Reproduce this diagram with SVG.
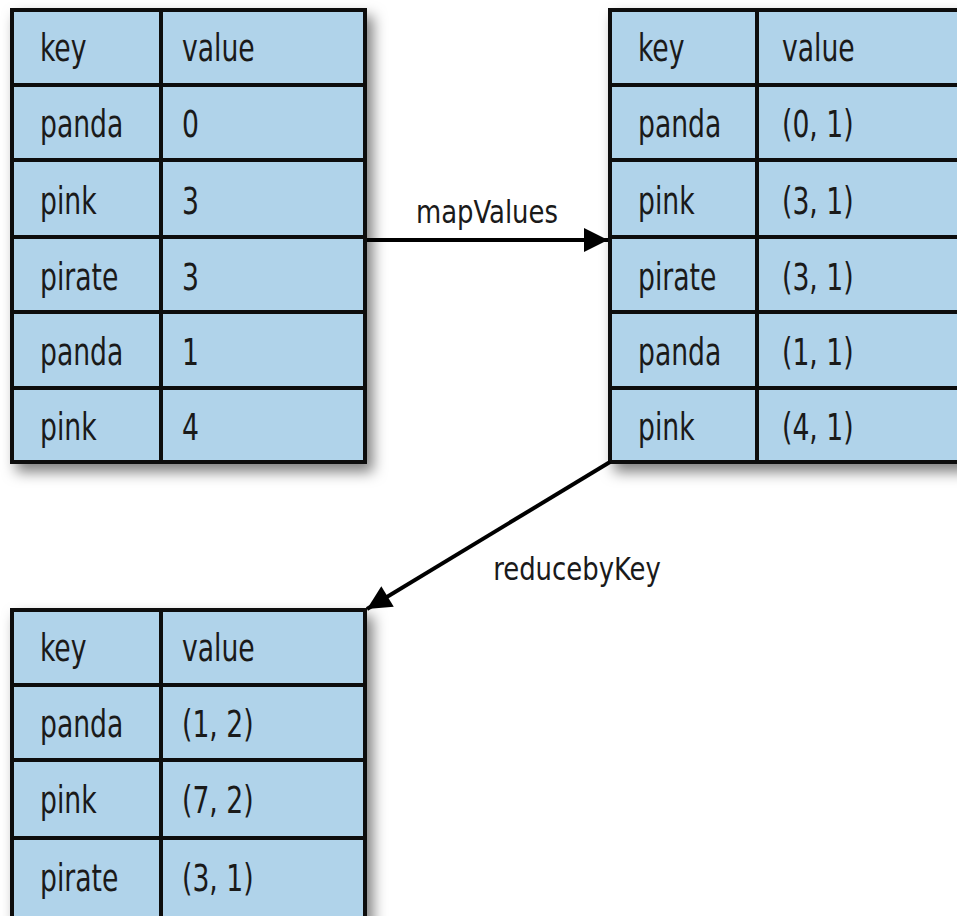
<svg xmlns="http://www.w3.org/2000/svg" width="957" height="916" viewBox="0 0 957 916">
<defs>
<style>
.cell{fill:#b0d3ea;stroke:#111;stroke-width:4}
.t{font-family:"DejaVu Sans Condensed","Liberation Sans",sans-serif;font-stretch:condensed;font-size:37px;fill:#1a1a1a;transform-box:fill-box;transform-origin:0 0;transform:scaleX(0.8)}
.lbl{font-family:"DejaVu Sans Condensed","Liberation Sans",sans-serif;font-stretch:condensed;font-size:32px;fill:#1a1a1a;transform-box:fill-box;transform-origin:50% 50%;transform:scaleX(0.9)}
.conn{stroke:#000;stroke-width:4;fill:none}
</style>
<filter id="sh" x="-10%" y="-10%" width="130%" height="130%">
<feDropShadow dx="6" dy="8" stdDeviation="7" flood-color="#000" flood-opacity="0.5"/>
</filter>
<marker id="ah" viewBox="0 0 10 10" refX="10" refY="5" markerWidth="7" markerHeight="6" markerUnits="strokeWidth" orient="auto">
<path d="M0,0 L10,5 L0,10 Z" fill="#000"/>
</marker>
</defs>
<rect width="957" height="916" fill="#fff"/>
<g id="table1" filter="url(#sh)">
<rect class="cell" x="12" y="10" width="353" height="452"/>
<line class="cell" x1="12" y1="85" x2="365" y2="85"/>
<line class="cell" x1="12" y1="160" x2="365" y2="160"/>
<line class="cell" x1="12" y1="237" x2="365" y2="237"/>
<line class="cell" x1="12" y1="312" x2="365" y2="312"/>
<line class="cell" x1="12" y1="388" x2="365" y2="388"/>
<line class="cell" x1="161" y1="10" x2="161" y2="462"/>
</g>
<g id="table1-text">
<text class="t" x="40" y="61">key</text><text class="t" x="182" y="61">value</text>
<text class="t" x="40" y="137">panda</text><text class="t" x="182" y="137">0</text>
<text class="t" x="40" y="214">pink</text><text class="t" x="182" y="214">3</text>
<text class="t" x="40" y="290">pirate</text><text class="t" x="182" y="290">3</text>
<text class="t" x="40" y="365">panda</text><text class="t" x="182" y="365">1</text>
<text class="t" x="40" y="440">pink</text><text class="t" x="182" y="440">4</text>
</g>
<g id="table2" filter="url(#sh)">
<rect class="cell" x="610" y="10" width="353" height="452"/>
<line class="cell" x1="610" y1="85" x2="963" y2="85"/>
<line class="cell" x1="610" y1="160" x2="963" y2="160"/>
<line class="cell" x1="610" y1="237" x2="963" y2="237"/>
<line class="cell" x1="610" y1="312" x2="963" y2="312"/>
<line class="cell" x1="610" y1="388" x2="963" y2="388"/>
<line class="cell" x1="757" y1="10" x2="757" y2="462"/>
</g>
<g id="table2-text">
<text class="t" x="638" y="61">key</text><text class="t" x="782" y="61">value</text>
<text class="t" x="638" y="137">panda</text><text class="t" x="782" y="137">(0, 1)</text>
<text class="t" x="638" y="214">pink</text><text class="t" x="782" y="214">(3, 1)</text>
<text class="t" x="638" y="290">pirate</text><text class="t" x="782" y="290">(3, 1)</text>
<text class="t" x="638" y="365">panda</text><text class="t" x="782" y="365">(1, 1)</text>
<text class="t" x="638" y="440">pink</text><text class="t" x="782" y="440">(4, 1)</text>
</g>
<g id="table3" filter="url(#sh)">
<rect class="cell" x="12" y="610" width="353" height="320"/>
<line class="cell" x1="12" y1="685" x2="365" y2="685"/>
<line class="cell" x1="12" y1="760" x2="365" y2="760"/>
<line class="cell" x1="12" y1="838" x2="365" y2="838"/>
<line class="cell" x1="161" y1="610" x2="161" y2="930"/>
</g>
<g id="table3-text">
<text class="t" x="40" y="661">key</text><text class="t" x="182" y="661">value</text>
<text class="t" x="40" y="737">panda</text><text class="t" x="182" y="737">(1, 2)</text>
<text class="t" x="40" y="813">pink</text><text class="t" x="182" y="813">(7, 2)</text>
<text class="t" x="40" y="891">pirate</text><text class="t" x="182" y="891">(3, 1)</text>
</g>
<g id="connectors">
<line class="conn" x1="367" y1="240" x2="608" y2="240" marker-end="url(#ah)"/>
<line class="conn" x1="610" y1="462" x2="367" y2="609" marker-end="url(#ah)"/>
<text class="lbl" x="487" y="223" text-anchor="middle">mapValues</text>
<text class="lbl" x="577" y="580" text-anchor="middle">reducebyKey</text>
</g>
</svg>
